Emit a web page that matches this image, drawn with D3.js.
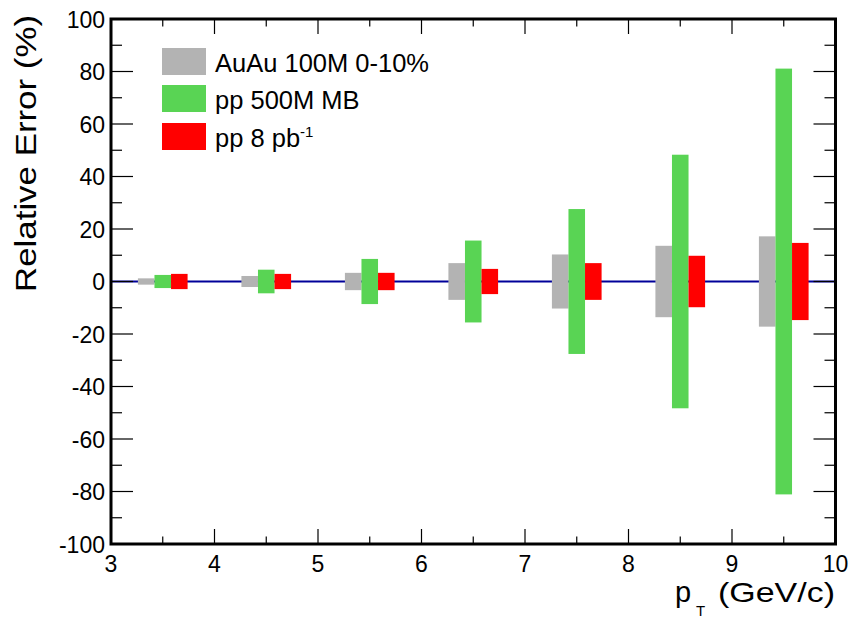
<!DOCTYPE html>
<html>
<head>
<meta charset="utf-8">
<script src="https://cdn.jsdelivr.net/npm/d3@7"></script>
<style>
  html, body { margin: 0; padding: 0; background: #fff; }
  svg text { font-family: "Liberation Sans", Arial, Helvetica, sans-serif; fill: #000; }
</style>
</head>
<body>
<svg id="chart" width="851" height="618"></svg>
<script>
// ---- data ----
const binCenters = [3.5, 4.5, 5.5, 6.5, 7.5, 8.5, 9.5];
const auauErr   = [1.2, 2.1, 3.3, 7.0, 10.3, 13.6, 17.2];
const ppMBErr   = [2.5, 4.5, 8.6, 15.6, 27.6, 48.3, 81.1];
const pp8Err    = [2.9, 2.9, 3.3, 4.8, 7.0, 9.8, 14.7];
const seriesNames = ["AuAu 100M 0-10%", "pp 500M MB", "pp 8 pb"];
const xTicks = [3, 4, 5, 6, 7, 8, 9, 10];
const yTicks = [-100, -80, -60, -40, -20, 0, 20, 40, 60, 80, 100];

// ---- layout ----
const L = 111, R = 835.5, T = 19, B = 544;
const svg = d3.select("#chart");
const x = d3.scaleLinear().domain([3, 10]).range([L, R]);
const y = d3.scaleLinear().domain([-100, 100]).range([B, T]);

const colors = ["#b3b3b3", "#59d454", "#ff0000"];
const offsets = [-0.16, 0, 0.16];
const barW = 0.16;
const series = [auauErr, ppMBErr, pp8Err];

// zero line
svg.append("line")
  .attr("x1", x(3)).attr("x2", x(10))
  .attr("y1", y(0)).attr("y2", y(0))
  .attr("stroke", "#000099").attr("stroke-width", 2);

// bars
series.forEach((vals, si) => {
  svg.append("g").selectAll("rect")
    .data(binCenters.map((c, i) => ({c, v: vals[i]})))
    .join("rect")
    .attr("x", d => x(d.c + offsets[si] - barW / 2))
    .attr("width", d => x(d.c + offsets[si] + barW / 2) - x(d.c + offsets[si] - barW / 2))
    .attr("y", d => y(d.v))
    .attr("height", d => y(-d.v) - y(d.v))
    .attr("fill", colors[si]);
});

// ticks (ROOT style, inside, on all four sides)
const tg = svg.append("g").attr("stroke", "#000").attr("stroke-width", 1.2);
d3.range(-100, 100.1, 10).forEach(v => {
  const major = Math.abs(v % 20) < 1e-6;
  const len = major ? 22 : 11;
  tg.append("line").attr("x1", L).attr("x2", L + len).attr("y1", y(v)).attr("y2", y(v));
  tg.append("line").attr("x1", R).attr("x2", R - len).attr("y1", y(v)).attr("y2", y(v));
});
d3.range(3, 10.01, 0.5).forEach(v => {
  const major = Math.abs(v - Math.round(v)) < 1e-6;
  const len = major ? 15 : 7.5;
  tg.append("line").attr("y1", B).attr("y2", B - len).attr("x1", x(v)).attr("x2", x(v));
  tg.append("line").attr("y1", T).attr("y2", T + len).attr("x1", x(v)).attr("x2", x(v));
});

// frame
svg.append("rect")
  .attr("x", L).attr("y", T).attr("width", R - L).attr("height", B - T)
  .attr("fill", "none").attr("stroke", "#000").attr("stroke-width", 3);

// tick labels
svg.append("g").selectAll("text").data(yTicks).join("text")
  .attr("x", L - 6).attr("y", d => y(d) + 8.5)
  .attr("text-anchor", "end").attr("font-size", 23)
  .text(d => d);
svg.append("g").selectAll("text").data(xTicks).join("text")
  .attr("x", d => x(d)).attr("y", B + 28)
  .attr("text-anchor", "middle").attr("font-size", 23)
  .text(d => d);

// axis titles
svg.append("text")
  .attr("transform", `translate(36, ${T - 4}) rotate(-90)`)
  .attr("text-anchor", "end").attr("font-size", 29)
  .attr("textLength", 277).attr("lengthAdjust", "spacingAndGlyphs")
  .text("Relative Error (%)");

svg.append("text").attr("x", 675).attr("y", 602).attr("font-size", 29).text("p");
svg.append("text").attr("x", 696).attr("y", 616).attr("font-size", 15).text("T");
svg.append("text").attr("x", 835).attr("y", 602)
  .attr("text-anchor", "end").attr("font-size", 28)
  .attr("textLength", 117).attr("lengthAdjust", "spacingAndGlyphs")
  .text("(GeV/c)");

// legend
const legY = [48, 85, 123];
const lg = svg.append("g");
seriesNames.forEach((name, i) => {
  lg.append("rect").attr("x", 162).attr("y", legY[i]).attr("width", 44).attr("height", 27)
    .attr("fill", colors[i]);
  const t = lg.append("text").attr("x", 215).attr("y", legY[i] + 23.5).attr("font-size", 25.5).text(name);
  if (i === 2) {
    t.append("tspan").attr("font-size", 15).attr("dy", -10).text("-1");
  }
});
</script>
</body>
</html>
